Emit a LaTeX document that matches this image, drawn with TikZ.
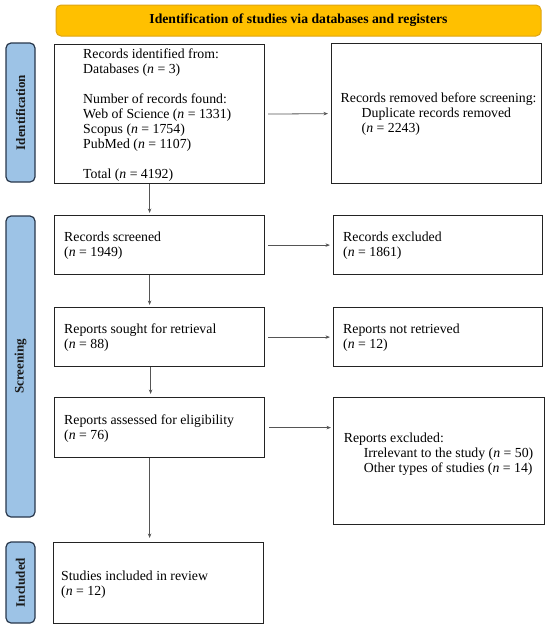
\documentclass[tikz,border=0pt]{standalone}
\usepackage{fontspec}
\setmainfont{Liberation Serif}
\usetikzlibrary{arrows.meta}
\definecolor{bannerfill}{RGB}{255,192,0}
\definecolor{bannerdraw}{RGB}{222,165,20}
\definecolor{sidefill}{RGB}{157,195,230}
\definecolor{sidedraw}{RGB}{40,55,75}
\definecolor{arrowgray}{RGB}{85,85,85}
\definecolor{boxdraw}{RGB}{35,35,35}
\begin{document}
\begin{tikzpicture}[x=1pt,y=-1pt,
  box/.style={draw=boxdraw, line width=1.2pt, rectangle, inner sep=0pt, anchor=north west, fill=white},
  txt/.style={font=\fontsize{13.8}{15}\selectfont, align=left, inner sep=0pt, anchor=west},
  side/.style={draw=sidedraw, fill=sidefill, line width=1.2pt, rounded corners=5pt, rotate=90,
    minimum height=29pt, inner sep=0pt, font=\fontsize{13}{15}\selectfont\bfseries, text=black!90},
  arr/.style={draw=arrowgray, line width=0.8pt, -{Stealth[length=4.5pt,width=3.5pt]}},
]
\useasboundingbox (0,0) rectangle (550,638);

% banner
\node[draw=bannerdraw, fill=bannerfill, line width=1pt, rounded corners=5pt,
  minimum width=485pt, minimum height=31pt, inner sep=0pt,
  font=\fontsize{13.7}{15}\selectfont\bfseries] (banner) at (298.5,20.5)
  {Identification of studies via databases and registers};

% side labels
\node[side, minimum width=139pt] (sid) at (20.5,112.5) {Identification};
\node[side, minimum width=301pt] (sscr) at (20.5,366.5) {Screening};
\node[side, minimum width=81pt] (sinc) at (20.5,582.5) {Included};

% boxes
\node[box, minimum width=210pt, minimum height=139pt] (b1) at (54,44) {};
\node[box, minimum width=210pt, minimum height=140pt] (b2) at (331,43) {};
\node[box, minimum width=210pt, minimum height=59pt] (b3) at (54,215) {};
\node[box, minimum width=209pt, minimum height=59pt] (b4) at (333,215) {};
\node[box, minimum width=210pt, minimum height=59pt] (b5) at (54,307) {};
\node[box, minimum width=209pt, minimum height=59pt] (b6) at (333,307) {};
\node[box, minimum width=210pt, minimum height=60pt] (b7) at (54,397) {};
\node[box, minimum width=211pt, minimum height=127pt] (b8) at (333,397) {};
\node[box, minimum width=210pt, minimum height=81pt] (b9) at (53,542) {};

% texts
\node[txt] (t1) at (83,115) {Records identified from:\\
Databases (\textit{n} = 3)\\[15pt]
Number of records found:\\
Web of Science (\textit{n} = 1331)\\
Scopus (\textit{n} = 1754)\\
PubMed (\textit{n} = 1107)\\[15pt]
Total (\textit{n} = 4192)};
\node[txt] (t2) at (340.5,114) {Records removed before screening:\\
\hspace*{21pt}Duplicate records removed\\
\hspace*{21pt}(\textit{n} = 2243)};
\node[txt] (t3) at (64,245.5) {Records screened\\(\textit{n} = 1949)};
\node[txt] (t4) at (343,245.5) {Records excluded\\(\textit{n} = 1861)};
\node[txt] (t5) at (64,338) {Reports sought for retrieval\\(\textit{n} = 88)};
\node[txt] (t6) at (343,338) {Reports not retrieved\\(\textit{n} = 12)};
\node[txt] (t7) at (64,428.3) {Reports assessed for eligibility\\(\textit{n} = 76)};
\node[txt] (t8) at (343.6,454.5) {Reports excluded:\\
\hspace*{20pt}Irrelevant to the study (\textit{n} = 50)\\
\hspace*{20pt}Other types of studies (\textit{n} = 14)};
\node[txt] (t9) at (61,584.3) {Studies included in review\\(\textit{n} = 12)};

% arrows
\draw[arr, shorten <=3pt, shorten >=3pt] (b1.east) -- (b2.west);
\draw[arr, shorten <=3pt, shorten >=3pt] (b3.east) -- (b4.west);
\draw[arr, shorten <=3pt, shorten >=3pt] (b5.east) -- (b6.west);
\draw[arr, shorten <=4pt, shorten >=2pt] (b7.east) -- (b7.east -| b8.west);
\draw[arr, shorten >=2pt] ([xshift=-10pt]b1.south) -- ([xshift=-10pt]b1.south |- b3.north);
\draw[arr, shorten >=2pt] ([xshift=-10pt]b3.south) -- ([xshift=-10pt]b3.south |- b5.north);
\draw[arr, shorten >=3pt] ([xshift=-9pt]b5.south) -- ([xshift=-9pt]b5.south |- b7.north);
\draw[arr, shorten >=4pt] ([xshift=-10pt]b7.south) -- ([xshift=-10pt]b7.south |- b9.north);
\end{tikzpicture}
\end{document}
